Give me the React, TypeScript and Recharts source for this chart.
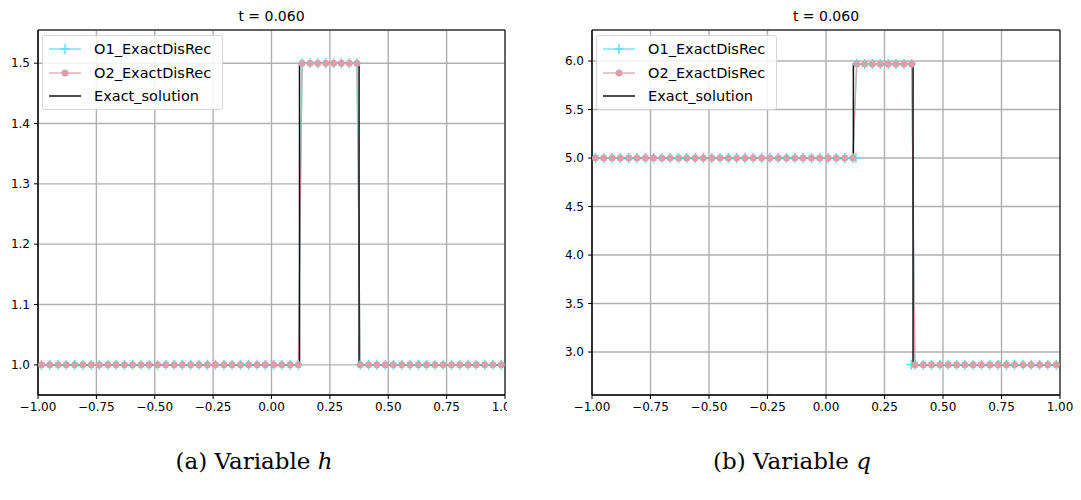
import React from 'react'
import {
  LineChart, Line, XAxis, YAxis, CartesianGrid, ReferenceArea,
} from 'recharts'

// cell positions of the numerical solution (lower-left / plateau / lower-right)
const X_LEFT = [
  -0.985, -0.950, -0.914, -0.879, -0.843, -0.808, -0.772, -0.737, -0.701, -0.666,
  -0.630, -0.595, -0.559, -0.524, -0.488, -0.453, -0.417, -0.382, -0.346, -0.311,
  -0.275, -0.240, -0.204, -0.169, -0.133, -0.098, -0.062, -0.027, 0.009, 0.044,
  0.080, 0.115,
]
const X_MID = [0.131, 0.165, 0.198, 0.232, 0.266, 0.299, 0.333, 0.366]
const X_RIGHT = [
  0.380, 0.416, 0.451, 0.487, 0.522, 0.558, 0.593, 0.629, 0.664, 0.700,
  0.735, 0.771, 0.806, 0.842, 0.877, 0.913, 0.948, 0.984,
]

// h panel
const H_LEFT = [
  1.0, 1.0, 1.0, 1.0, 1.0, 1.0, 1.0, 1.0, 1.0, 1.0, 1.0, 1.0, 1.0, 1.0, 1.0, 1.0,
  1.0, 1.0, 1.0, 1.0, 1.0, 1.0, 1.0, 1.0, 1.0, 1.0, 1.0, 1.0, 1.0, 1.0, 1.0, 1.0,
]
const H_MID = [1.5, 1.5, 1.5, 1.5, 1.5, 1.5, 1.5, 1.5]
const H_RIGHT = [
  1.0, 1.0, 1.0, 1.0, 1.0, 1.0, 1.0, 1.0, 1.0, 1.0, 1.0, 1.0, 1.0, 1.0, 1.0, 1.0, 1.0, 1.0,
]
const H_EXACT_X = [-1, 0.12, 0.12, 0.375, 0.375, 1]
const H_EXACT = [1.0, 1.0, 1.5, 1.5, 1.0, 1.0]
const H_TICKS = [1.0, 1.1, 1.2, 1.3, 1.4, 1.5]
const H_DOMAIN = [0.950, 1.555]

// q panel
const Q_LEFT = [
  5.0, 5.0, 5.0, 5.0, 5.0, 5.0, 5.0, 5.0, 5.0, 5.0, 5.0, 5.0, 5.0, 5.0, 5.0, 5.0,
  5.0, 5.0, 5.0, 5.0, 5.0, 5.0, 5.0, 5.0, 5.0, 5.0, 5.0, 5.0, 5.0, 5.0, 5.0, 5.0,
]
const Q_MID = [5.97, 5.97, 5.97, 5.97, 5.97, 5.97, 5.97, 5.97]
const Q_RIGHT = [
  2.87, 2.87, 2.87, 2.87, 2.87, 2.87, 2.87, 2.87, 2.87, 2.87, 2.87, 2.87, 2.87, 2.87,
  2.87, 2.87, 2.87, 2.87,
]
// stray O1 markers at the two jump cells
const Q_O1_EXTRA_X = [0.128, 0.364]
const Q_O1_EXTRA = [5.0, 2.87]
const Q_EXACT_X = [-1, 0.117, 0.117, 0.372, 0.372, 1]
const Q_EXACT = [5.0, 5.0, 5.97, 5.97, 2.87, 2.87]
const Q_TICKS = [3.0, 3.5, 4.0, 4.5, 5.0, 5.5, 6.0]
const Q_DOMAIN = [2.557, 6.32]

const X_TICKS = [-1, -0.75, -0.5, -0.25, 0, 0.25, 0.5, 0.75, 1]

const O1_COLOR = '#4ae6f2'
const O2_COLOR = '#d9a0a9'
const EXACT_COLOR = '#111'
const FONT = 'DejaVu Sans, sans-serif'
const TICK_STYLE = { fontSize: 12, fill: '#000', fontFamily: FONT }

const fmtX = (v: number) => (v < 0 ? '\u2212' : '') + Math.abs(v).toFixed(2)

const zip = (xs: number[], ys: number[]) => xs.map((x, i) => ({ x, y: ys[i] }))

function PlusDot(props: any) {
  const { cx, cy } = props
  if (cx == null || cy == null) return <g />
  return (
    <path
      d={`M${cx - 4.5},${cy}H${cx + 4.5}M${cx},${cy - 5}V${cy + 5}`}
      stroke={O1_COLOR}
      strokeWidth={1.4}
      fill="none"
    />
  )
}

function RoundDot(props: any) {
  const { cx, cy } = props
  if (cx == null || cy == null) return <g />
  return <circle cx={cx} cy={cy} r={3.5} fill={O2_COLOR} stroke="none" />
}

function LegendBox({ left }: { left: number }) {
  const rows = [
    { name: 'O1_ExactDisRec', kind: 'plus', color: O1_COLOR },
    { name: 'O2_ExactDisRec', kind: 'dot', color: O2_COLOR },
    { name: 'Exact_solution', kind: 'line', color: EXACT_COLOR },
  ]
  return (
    <div style={{
      position: 'absolute', left, top: 35, width: 181, height: 75,
      border: '1px solid #d6d6d6', borderRadius: 3, background: 'rgba(255,255,255,0.85)',
      boxSizing: 'border-box', fontFamily: FONT, fontSize: 14.5, color: '#000',
    }}>
      {rows.map((r, i) => (
        <div key={r.name} style={{ position: 'absolute', left: 0, top: 2 + i * 23.5, height: 22, display: 'flex', alignItems: 'center' }}>
          <svg width={48} height={22} style={{ display: 'block' }}>
            <line x1={6} x2={38} y1={11} y2={11} stroke={r.color} strokeWidth={r.kind === 'line' ? 1.5 : 1.2} />
            {r.kind === 'plus' && <path d="M22,6V16M17.5,11H26.5" stroke={r.color} strokeWidth={1.4} />}
            {r.kind === 'dot' && <circle cx={22} cy={11} r={3.5} fill={r.color} />}
          </svg>
          <span style={{ marginLeft: 3, whiteSpace: 'nowrap' }}>{r.name}</span>
        </div>
      ))}
    </div>
  )
}

type PanelProps = {
  left: number
  boxWidth: number
  chartWidth: number
  marginRight: number
  low: number[]
  mid: number[]
  high: number[]
  o1Extra?: { x: number, y: number }[]
  exact: { x: number, y: number }[]
  ticks: number[]
  domain: number[]
}

function Panel(p: PanelProps) {
  const num = [...zip(X_LEFT, p.low), ...zip(X_MID, p.mid), ...zip(X_RIGHT, p.high)]
  const plotCenter = 38 + (p.chartWidth - p.marginRight - 38) / 2
  return (
    <div style={{ position: 'absolute', left: p.left, top: 0, width: p.boxWidth, height: 430, overflow: 'hidden' }}>
      <div style={{
        position: 'absolute', top: 6, left: plotCenter - 60, width: 120, textAlign: 'center',
        fontFamily: FONT, fontSize: 14, lineHeight: '20px', color: '#000',
      }}>
        t = 0.060
      </div>
      <LineChart
        width={p.chartWidth}
        height={430}
        margin={{ top: 30, right: p.marginRight, bottom: 10, left: 0 }}
      >
        <CartesianGrid stroke="#b0b0b0" strokeWidth={1.4} />
        <XAxis
          type="number"
          dataKey="x"
          domain={[-1, 1]}
          ticks={X_TICKS}
          tickFormatter={fmtX}
          allowDataOverflow
          height={25}
          tickSize={4}
          tickMargin={3}
          tick={TICK_STYLE}
          stroke="#000"
        />
        <YAxis
          type="number"
          domain={p.domain}
          ticks={p.ticks}
          tickFormatter={(v: number) => v.toFixed(1)}
          allowDataOverflow
          width={38}
          tickSize={4}
          tickMargin={4}
          tick={TICK_STYLE}
          stroke="#000"
        />
        <ReferenceArea
          x1={-1} x2={1} y1={p.domain[0]} y2={p.domain[1]}
          fill="none" fillOpacity={0} stroke="#000" strokeWidth={1}
        />
        <Line
          data={num}
          dataKey="y"
          stroke={O1_COLOR}
          strokeWidth={1.2}
          dot={<PlusDot />}
          activeDot={false}
          isAnimationActive={false}
        />
        {p.o1Extra && (
          <Line
            data={p.o1Extra}
            dataKey="y"
            stroke="none"
            dot={<PlusDot />}
            activeDot={false}
            isAnimationActive={false}
          />
        )}
        <Line
          data={num}
          dataKey="y"
          stroke={O2_COLOR}
          strokeWidth={1.2}
          dot={<RoundDot />}
          activeDot={false}
          isAnimationActive={false}
        />
        <Line
          data={p.exact}
          dataKey="y"
          stroke={EXACT_COLOR}
          strokeWidth={1.5}
          dot={false}
          activeDot={false}
          isAnimationActive={false}
        />
      </LineChart>
      <LegendBox left={42} />
    </div>
  )
}

export default function App() {
  const capStyle: React.CSSProperties = {
    position: 'absolute', top: 448, width: 300, textAlign: 'center',
    fontFamily: '"DejaVu Serif", serif', fontSize: 23, color: '#000',
  }
  return (
    <div style={{ position: 'absolute', left: 0, top: 0, width: 1081, height: 500, background: '#fff' }}>
      <Panel
        left={0}
        boxWidth={507}
        chartWidth={530}
        marginRight={25}
        low={H_LEFT}
        mid={H_MID}
        high={H_RIGHT}
        exact={zip(H_EXACT_X, H_EXACT)}
        ticks={H_TICKS}
        domain={H_DOMAIN}
      />
      <Panel
        left={554}
        boxWidth={527}
        chartWidth={527}
        marginRight={21}
        low={Q_LEFT}
        mid={Q_MID}
        high={Q_RIGHT}
        o1Extra={zip(Q_O1_EXTRA_X, Q_O1_EXTRA)}
        exact={zip(Q_EXACT_X, Q_EXACT)}
        ticks={Q_TICKS}
        domain={Q_DOMAIN}
      />
      <div style={{ ...capStyle, left: 254 - 150 }}>(a) Variable <i>h</i></div>
      <div style={{ ...capStyle, left: 792 - 150 }}>(b) Variable <i>q</i></div>
    </div>
  )
}
